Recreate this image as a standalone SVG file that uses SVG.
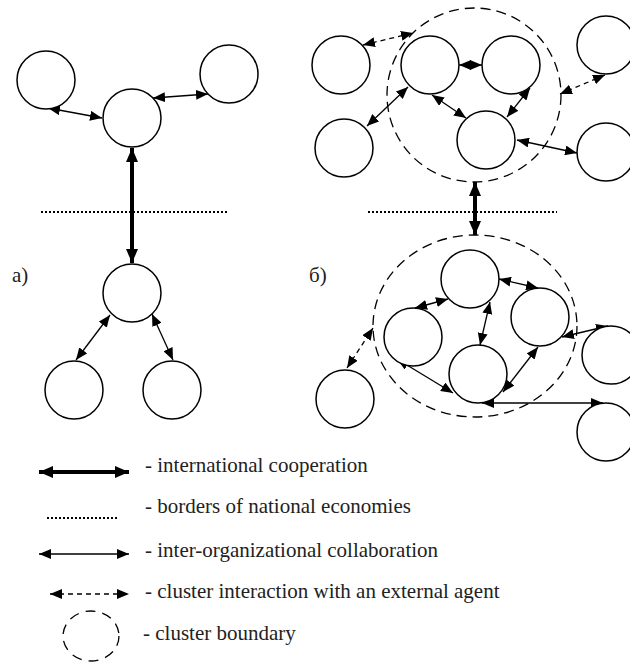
<svg xmlns="http://www.w3.org/2000/svg" width="630" height="662" viewBox="0 0 630 662">
<style>
.n{fill:#fff;stroke:#000;stroke-width:1.5}
.c{fill:none;stroke:#000;stroke-width:1.3;marker-start:url(#ah);marker-end:url(#ah)}
.d{fill:none;stroke:#000;stroke-width:1.3;stroke-dasharray:5 4;marker-start:url(#ah);marker-end:url(#ah)}
.t{fill:none;stroke:#000;stroke-width:4;marker-start:url(#ahb);marker-end:url(#ahb)}
.dot{fill:none;stroke:#000;stroke-width:2;stroke-dasharray:2 2}
.cb{fill:none;stroke:#000;stroke-width:1.3;stroke-dasharray:10 6}
.tx{font-family:"Liberation Serif","Times New Roman","DejaVu Serif",serif;font-size:21px;fill:#222}
</style>
<defs>
<marker id="ah" viewBox="0 0 12 10" refX="12" refY="5" markerWidth="12" markerHeight="10" markerUnits="userSpaceOnUse" orient="auto-start-reverse"><path d="M0,0 L12,5 L0,10 z" fill="#000"/></marker>
<marker id="ahb" viewBox="0 0 14 12" refX="14" refY="6" markerWidth="14" markerHeight="12" markerUnits="userSpaceOnUse" orient="auto-start-reverse"><path d="M0,0 L14,6 L0,12 z" fill="#000"/></marker>
</defs>

<g id="borders">
<line class="dot" x1="41" y1="212" x2="228" y2="212"/>
<line class="dot" x1="368" y1="212" x2="557" y2="212"/>
</g>

<g id="cluster-boundaries">
<circle class="cb" cx="474" cy="95" r="87"/>
<ellipse class="cb" cx="475" cy="326" rx="102" ry="91"/>
</g>

<g id="connectors">
<line class="c" x1="48" y1="108" x2="102" y2="118"/>
<line class="c" x1="153" y1="98" x2="208" y2="94"/>
<line class="t" x1="132" y1="148" x2="132" y2="263"/>
<line class="c" x1="110" y1="315" x2="76" y2="360"/>
<line class="c" x1="152" y1="314" x2="173" y2="360"/>

<line class="d" x1="363" y1="45" x2="413" y2="33"/>
<line class="c" x1="459" y1="65" x2="482" y2="65"/>
<line class="c" x1="408" y1="87" x2="367" y2="126"/>
<line class="c" x1="432" y1="95" x2="466" y2="118"/>
<line class="c" x1="530" y1="88" x2="507" y2="117"/>
<line class="c" x1="517" y1="140" x2="577" y2="153"/>
<line class="d" x1="605" y1="75" x2="560" y2="94"/>
<line class="t" x1="475" y1="182" x2="475" y2="235"/>

<line class="c" x1="415" y1="308" x2="448" y2="299"/>
<line class="c" x1="499" y1="279" x2="538" y2="288"/>
<line class="c" x1="490" y1="302" x2="480" y2="345"/>
<line class="c" x1="538" y1="347" x2="503" y2="392"/>
<line class="c" x1="397" y1="359" x2="453" y2="393"/>
<line class="c" x1="562" y1="337" x2="608" y2="326"/>
<line class="c" x1="482" y1="403" x2="603" y2="403"/>
<line class="d" x1="347" y1="368" x2="373" y2="328"/>
</g>

<g id="a-top-left"><circle class="n" cx="46" cy="80" r="29"/></g>
<g id="a-center-top"><circle class="n" cx="132" cy="118" r="29"/></g>
<g id="a-top-right"><circle class="n" cx="229" cy="74" r="29"/></g>
<g id="a-center-bottom"><circle class="n" cx="132" cy="293" r="29"/></g>
<g id="a-bottom-left"><circle class="n" cx="74" cy="390" r="29"/></g>
<g id="a-bottom-right"><circle class="n" cx="172" cy="390" r="29"/></g>

<g id="b-ext-1"><circle class="n" cx="341" cy="65" r="29"/></g>
<g id="b-cl1-1"><circle class="n" cx="430" cy="65" r="29"/></g>
<g id="b-cl1-2"><circle class="n" cx="511" cy="65" r="29"/></g>
<g id="b-cl1-3"><circle class="n" cx="486" cy="140" r="29"/></g>
<g id="b-ext-2"><circle class="n" cx="344" cy="148" r="29"/></g>
<g id="b-ext-3"><circle class="n" cx="606" cy="45" r="29"/></g>
<g id="b-ext-4"><circle class="n" cx="606" cy="152" r="29"/></g>

<g id="b-cl2-1"><circle class="n" cx="470" cy="279" r="29"/></g>
<g id="b-cl2-2"><circle class="n" cx="540" cy="317" r="29"/></g>
<g id="b-cl2-3"><circle class="n" cx="413" cy="337" r="29"/></g>
<g id="b-cl2-4"><circle class="n" cx="478" cy="374" r="29"/></g>
<g id="b-ext-5"><circle class="n" cx="345" cy="399" r="29"/></g>
<g id="b-ext-6"><circle class="n" cx="611" cy="355" r="29"/></g>
<g id="b-ext-7"><circle class="n" cx="606" cy="432" r="29"/></g>

<g id="labels">
<text class="tx" x="12" y="282">а)</text>
<text class="tx" x="309" y="282">б)</text>
</g>

<g id="legend">
<line class="t" x1="39" y1="472" x2="129" y2="472"/>
<text class="tx" x="145" y="472">- international cooperation</text>
<line class="dot" x1="47" y1="518" x2="117" y2="518"/>
<text class="tx" x="145" y="513">- borders of national economies</text>
<line class="c" x1="39" y1="554" x2="129" y2="554"/>
<text class="tx" x="145" y="557">- inter-organizational collaboration</text>
<line class="d" x1="50" y1="594" x2="129" y2="594"/>
<text class="tx" x="145" y="598">- cluster interaction with an external agent</text>
<ellipse class="cb" cx="91" cy="636" rx="28" ry="25" style="stroke-dasharray:10 7"/>
<text class="tx" x="143" y="640">- cluster boundary</text>
</g>
</svg>
